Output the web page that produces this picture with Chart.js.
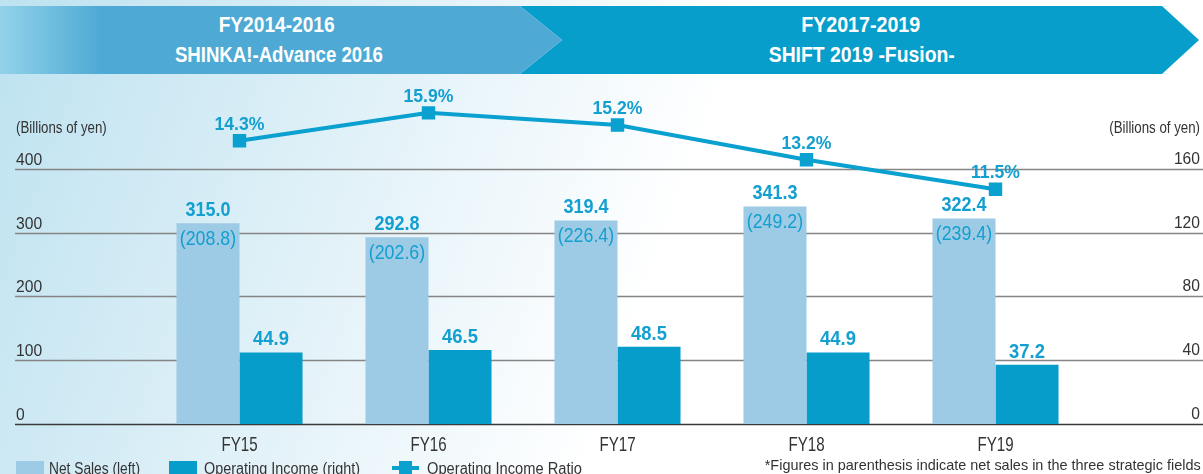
<!DOCTYPE html>
<html>
<head>
<meta charset="utf-8">
<script src="https://cdn.jsdelivr.net/npm/chart.js@4/dist/chart.umd.min.js"></script>
<style>
  html, body { margin: 0; padding: 0; }
  body {
    width: 1203px; height: 474px; overflow: hidden; position: relative;
    background: linear-gradient(110deg, #bde2f0 0%, #dceff7 25%, #ffffff 55%);
    font-family: "Liberation Sans", Arial, sans-serif;
  }
  #grafico { position: absolute; left: 0; top: 0; }
  .faixa { position: absolute; top: 6px; height: 68px; }
  #faixa-esq {
    left: 0; width: 562px;
    clip-path: polygon(0 0, 520px 0, 562px 34px, 520px 68px, 0 68px);
    background: linear-gradient(90deg, #93d3ea 0px, #4eaad4 100px, #4eaad4 100%);
  }
  #faixa-dir {
    left: 520px; width: 680px;
    clip-path: polygon(0 0, 642px 0, 679px 34px, 642px 68px, 0 68px, 42px 34px);
    background: #079ecb;
  }
  .linha-faixa {
    position: absolute; white-space: nowrap;
    color: #fff; font-weight: bold; font-size: 22px; line-height: 30px;
  }
  .legenda { position: absolute; top: 461px; font-size: 16px; color: #333; line-height: 16px; white-space: nowrap; }
  .caixa { position: absolute; top: 461px; width: 28px; height: 16px; }
  #nota { position: absolute; top: 457px; font-size: 15px; color: #333; line-height: 15px; white-space: nowrap; }
  #simbolo-linha { position: absolute; left: 392px; top: 461px; width: 27px; height: 16px; }
  #simbolo-linha .traco { position: absolute; left: 0; top: 5px; width: 27px; height: 4px; background: #0aa0cf; }
  #simbolo-linha .quadrado { position: absolute; left: 7px; top: 0; width: 13px; height: 14px; background: #0aa0cf; }
</style>
</head>
<body>
<div id="faixa-dir" class="faixa"></div>
<div id="faixa-esq" class="faixa"></div>
<div class="linha-faixa ajustar" data-centro="277" data-topo="10" data-largura="116">FY2014-2016</div>
<div class="linha-faixa ajustar" data-centro="279" data-topo="40" data-largura="208">SHINKA!-Advance 2016</div>
<div class="linha-faixa ajustar" data-centro="861" data-topo="10" data-largura="119">FY2017-2019</div>
<div class="linha-faixa ajustar" data-centro="862" data-topo="40" data-largura="186">SHIFT 2019 -Fusion-</div>

<canvas id="grafico" width="1203" height="474"></canvas>

<div class="caixa" style="left:16px;background:#9dcae4"></div>
<div class="legenda ajustar" data-esq="49" data-largura="91">Net Sales (left)</div>
<div class="caixa" style="left:169px;background:#069dcb"></div>
<div class="legenda ajustar" data-esq="204" data-largura="156">Operating Income (right)</div>
<div id="simbolo-linha"><div class="traco"></div><div class="quadrado"></div></div>
<div class="legenda ajustar" data-esq="427" data-largura="155">Operating Income Ratio</div>
<div id="nota" class="ajustar" data-dir="1201" data-largura="436">*Figures in parenthesis indicate net sales in the three strategic fields</div>

<script>
const anosFiscais = ['FY15', 'FY16', 'FY17', 'FY18', 'FY19'];
const vendasLiquidas = [315.0, 292.8, 319.4, 341.3, 322.4];
const vendasCamposEstrategicos = [208.8, 202.6, 226.4, 249.2, 239.4];
const lucroOperacional = [44.9, 46.5, 48.5, 44.9, 37.2];
const margemOperacional = [14.3, 15.9, 15.2, 13.2, 11.5];
const ticksVendas = [0, 100, 200, 300, 400];
const ticksLucro = [0, 40, 80, 120, 160];

const fonteBase = '"Liberation Sans", Arial, sans-serif';
const corTexto = '#333333';
const corAzulTexto = '#139fd0';

// textos condensados: a fonte normal é estreitada na horizontal
document.querySelectorAll('.ajustar').forEach(el => {
    const largura = el.getBoundingClientRect().width;
    const escala = Number(el.dataset.largura) / largura;
    el.style.transform = `scaleX(${escala})`;
    if (el.dataset.centro) {
        el.style.left = (Number(el.dataset.centro) - largura / 2) + 'px';
        el.style.transformOrigin = 'center';
    } else if (el.dataset.dir) {
        el.style.left = (Number(el.dataset.dir) - largura) + 'px';
        el.style.transformOrigin = 'right';
    } else {
        el.style.left = el.dataset.esq + 'px';
        el.style.transformOrigin = 'left';
    }
    if (el.dataset.topo) el.style.top = el.dataset.topo + 'px';
});

function textoCondensado(ctx, texto, x, y, fonte, escala, alinhamento) {
    ctx.save();
    ctx.translate(x, y);
    ctx.scale(escala, 1);
    ctx.font = fonte;
    ctx.textAlign = alinhamento;
    ctx.textBaseline = 'alphabetic';
    ctx.fillText(texto, 0, 0);
    ctx.restore();
}

// grade, rótulos dos eixos e títulos (desenhados antes das barras)
const pluginEixos = {
    id: 'eixos',
    beforeDatasetsDraw(chart) {
        const ctx = chart.ctx;
        const yVendas = chart.scales.yVendas;
        const yLucro = chart.scales.yLucro;
        const x = chart.scales.x;
        ctx.save();
        ctx.fillStyle = corTexto;
        ticksVendas.forEach((valor, i) => {
            const y = Math.round(yVendas.getPixelForValue(valor)) + 0.5;
            ctx.strokeStyle = valor === 0 ? '#3a3a3a' : '#858585';
            ctx.lineWidth = 1.5;
            ctx.beginPath();
            ctx.moveTo(15, y);
            ctx.lineTo(1203, y);
            ctx.stroke();

            textoCondensado(ctx, String(valor), 16, y - 5, '17px ' + fonteBase, 0.92, 'left');
            const yDir = yLucro.getPixelForValue(ticksLucro[i]);
            textoCondensado(ctx, String(ticksLucro[i]), 1200, yDir - 5, '17px ' + fonteBase, 0.92, 'right');
        });

        textoCondensado(ctx, '(Billions of yen)', 16, 133, '16px ' + fonteBase, 0.83, 'left');
        textoCondensado(ctx, '(Billions of yen)', 1200, 133, '16px ' + fonteBase, 0.83, 'right');

        anosFiscais.forEach((ano, i) => {
            textoCondensado(ctx, ano, x.getPixelForValue(i), 451, '21px ' + fonteBase, 0.72, 'center');
        });
        ctx.restore();
    }
};

// valores sobre as barras e os pontos da linha
const pluginRotulos = {
    id: 'rotulos',
    afterDatasetsDraw(chart) {
        const ctx = chart.ctx;
        ctx.save();
        ctx.fillStyle = corAzulTexto;

        chart.getDatasetMeta(0).data.forEach((barra, i) => {
            textoCondensado(ctx, vendasLiquidas[i].toFixed(1), barra.x, barra.y - 7, 'bold 20px ' + fonteBase, 0.9, 'center');
            textoCondensado(ctx, '(' + vendasCamposEstrategicos[i].toFixed(1) + ')', barra.x, barra.y + 22, '20px ' + fonteBase, 0.89, 'center');
        });

        chart.getDatasetMeta(1).data.forEach((barra, i) => {
            textoCondensado(ctx, lucroOperacional[i].toFixed(1), barra.x, barra.y - 7, 'bold 20px ' + fonteBase, 0.92, 'center');
        });

        chart.getDatasetMeta(2).data.forEach((ponto, i) => {
            textoCondensado(ctx, margemOperacional[i].toFixed(1) + '%', ponto.x, ponto.y - 11, 'bold 18px ' + fonteBase, 0.98, 'center');
        });
        ctx.restore();
    }
};

const ctxGrafico = document.getElementById('grafico').getContext('2d');

const grafico = new Chart(ctxGrafico, {
    type: 'bar',
    data: {
        labels: anosFiscais,
        datasets: [{
            label: 'Net Sales (left)',
            data: vendasLiquidas,
            backgroundColor: '#9dcae4',
            yAxisID: 'yVendas',
            order: 2
        }, {
            label: 'Operating Income (right)',
            data: lucroOperacional,
            backgroundColor: '#069dcb',
            yAxisID: 'yLucro',
            order: 2
        }, {
            type: 'line',
            label: 'Operating Income Ratio',
            data: margemOperacional,
            borderColor: '#0aa0cf',
            backgroundColor: '#0aa0cf',
            borderWidth: 4,
            pointStyle: 'rect',
            pointRadius: 9.5,
            pointBorderWidth: 0,
            tension: 0,
            yAxisID: 'yMargem',
            order: 0
        }]
    },
    options: {
        responsive: false,
        animation: false,
        layout: {
            padding: { left: 145, right: 113, top: 84, bottom: 50 }
        },
        datasets: {
            bar: { categoryPercentage: 0.667, barPercentage: 1.0 }
        },
        scales: {
            // área do gráfico: y de 84 a 424; 400 (esq.) e 160 (dir.) caem em y = 169
            x: { display: false, offset: true },
            yVendas: { display: false, min: 0, max: 533.33 },
            yLucro: { display: false, min: 0, max: 213.33 },
            yMargem: { display: false, min: -2.0, max: 17.56 }
        },
        plugins: {
            legend: { display: false },
            tooltip: { enabled: false }
        }
    },
    plugins: [pluginEixos, pluginRotulos]
});
</script>
</body>
</html>
